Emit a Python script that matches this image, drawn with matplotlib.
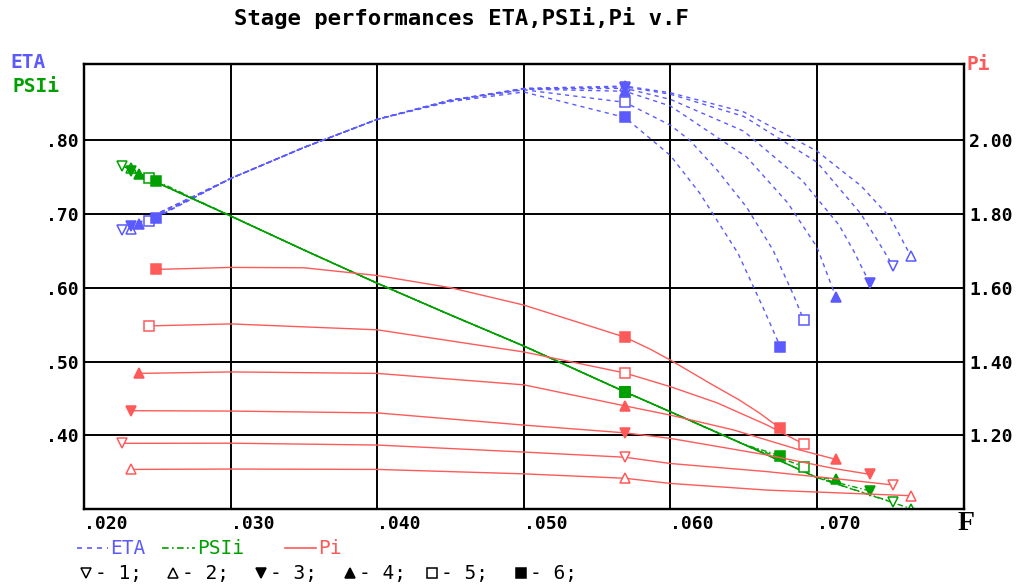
import matplotlib
matplotlib.use('Agg')
import matplotlib.pyplot as plt
from matplotlib.lines import Line2D

# cases 1..6 : markers and fills
case_names = ['1', '2', '3', '4', '5', '6']
case_markers = ['v', '^', 'v', '^', 's', 's']
case_filled = [False, False, True, True, False, True]

# ETA v F (left axis)
eta_F = [
    [0.0226, 0.030, 0.035, 0.040, 0.045, 0.050, 0.0569, 0.060, 0.065, 0.070, 0.0730, 0.0745, 0.0752],
    [0.0232, 0.030, 0.035, 0.040, 0.045, 0.050, 0.0569, 0.060, 0.065, 0.070, 0.0730, 0.0750, 0.0764],
    [0.0232, 0.030, 0.035, 0.040, 0.045, 0.050, 0.0569, 0.060, 0.065, 0.069, 0.0715, 0.0725, 0.0736],
    [0.0237, 0.030, 0.035, 0.040, 0.045, 0.050, 0.0569, 0.060, 0.0652, 0.0680, 0.070, 0.0713],
    [0.0244, 0.030, 0.035, 0.040, 0.045, 0.050, 0.0569, 0.060, 0.0613, 0.0632, 0.0652, 0.0670, 0.0684, 0.0691],
    [0.0249, 0.030, 0.035, 0.040, 0.045, 0.050, 0.0569, 0.060, 0.0620, 0.0646, 0.0663, 0.0675],
]
eta_val = [
    [0.678, 0.748, 0.790, 0.828, 0.854, 0.869, 0.872, 0.862, 0.832, 0.770, 0.700, 0.652, 0.629],
    [0.679, 0.748, 0.790, 0.828, 0.854, 0.870, 0.873, 0.864, 0.838, 0.785, 0.738, 0.695, 0.643],
    [0.683, 0.748, 0.790, 0.828, 0.854, 0.869, 0.870, 0.855, 0.812, 0.745, 0.685, 0.650, 0.606],
    [0.686, 0.748, 0.790, 0.828, 0.854, 0.869, 0.866, 0.846, 0.777, 0.715, 0.655, 0.587],
    [0.690, 0.748, 0.790, 0.828, 0.853, 0.868, 0.851, 0.820, 0.800, 0.759, 0.709, 0.651, 0.590, 0.556],
    [0.695, 0.748, 0.790, 0.828, 0.852, 0.865, 0.8305, 0.779, 0.728, 0.647, 0.574, 0.520],
]

# PSIi v F (left axis)
psi_F = [
    [0.0226, 0.025, 0.030, 0.035, 0.040, 0.045, 0.050, 0.0569, 0.060, 0.065, 0.070, 0.0752],
    [0.0232, 0.025, 0.030, 0.035, 0.040, 0.045, 0.050, 0.0569, 0.060, 0.065, 0.070, 0.0764],
    [0.0232, 0.025, 0.030, 0.035, 0.040, 0.045, 0.050, 0.0569, 0.060, 0.065, 0.070, 0.0736],
    [0.0237, 0.025, 0.030, 0.035, 0.040, 0.045, 0.050, 0.0569, 0.060, 0.065, 0.070, 0.0713],
    [0.0244, 0.025, 0.030, 0.035, 0.040, 0.045, 0.050, 0.0569, 0.060, 0.065, 0.0691],
    [0.0249, 0.030, 0.035, 0.040, 0.045, 0.050, 0.0569, 0.060, 0.065, 0.0675],
]
psi_val = [
    [0.765, 0.742, 0.697, 0.651, 0.606, 0.563, 0.521, 0.459, 0.432, 0.388, 0.343, 0.3095],
    [0.762, 0.742, 0.697, 0.651, 0.606, 0.563, 0.521, 0.459, 0.432, 0.388, 0.343, 0.301],
    [0.758, 0.742, 0.697, 0.651, 0.606, 0.563, 0.521, 0.459, 0.432, 0.388, 0.343, 0.325],
    [0.754, 0.742, 0.697, 0.651, 0.606, 0.563, 0.521, 0.459, 0.432, 0.388, 0.343, 0.3406],
    [0.749, 0.742, 0.697, 0.651, 0.606, 0.563, 0.521, 0.459, 0.432, 0.388, 0.3577],
    [0.745, 0.697, 0.651, 0.606, 0.563, 0.521, 0.459, 0.432, 0.388, 0.3725],
]

# Pi v F (right axis)
pi_F = [
    [0.0226, 0.030, 0.040, 0.050, 0.0569, 0.060, 0.0666, 0.0722, 0.0752],
    [0.0232, 0.030, 0.040, 0.050, 0.0569, 0.060, 0.0666, 0.0764],
    [0.0232, 0.030, 0.040, 0.050, 0.0569, 0.060, 0.0666, 0.0711, 0.0736],
    [0.0237, 0.030, 0.040, 0.050, 0.0569, 0.060, 0.0643, 0.0688, 0.0713],
    [0.0244, 0.030, 0.040, 0.050, 0.0569, 0.060, 0.0632, 0.0666, 0.0691],
    [0.0249, 0.030, 0.035, 0.040, 0.045, 0.050, 0.0569, 0.0586, 0.060, 0.0627, 0.0647, 0.0661, 0.0675],
]
pi_val = [
    [1.1786, 1.179, 1.174, 1.155, 1.141, 1.124, 1.102, 1.079, 1.0658],
    [1.108, 1.109, 1.108, 1.096, 1.084, 1.070, 1.052, 1.0368],
    [1.267, 1.266, 1.261, 1.228, 1.207, 1.192, 1.147, 1.111, 1.0947],
    [1.368, 1.372, 1.368, 1.337, 1.280, 1.255, 1.215, 1.161, 1.135],
    [1.4966, 1.502, 1.486, 1.426, 1.369, 1.332, 1.288, 1.228, 1.1767],
    [1.6495, 1.655, 1.654, 1.633, 1.600, 1.553, 1.466, 1.434, 1.404, 1.341, 1.296, 1.260, 1.219],
]
F_mid = 0.0569

x_ticks = [0.020, 0.030, 0.040, 0.050, 0.060, 0.070]
x_labels = ['.020', '.030', '.040', '.050', '.060', '.070']
left_ticks = [0.40, 0.50, 0.60, 0.70, 0.80]
left_labels = ['.40', '.50', '.60', '.70', '.80']
right_ticks = [1.20, 1.40, 1.60, 1.80, 2.00]
right_labels = ['1.20', '1.40', '1.60', '1.80', '2.00']

BLUE = '#5a5aff'
GREEN = '#00a000'
RED = '#ff5a5a'
MONO = 'DejaVu Sans Mono'

fig = plt.figure(figsize=(10.23, 5.85), dpi=100)
ax = fig.add_axes([84.3 / 1023, 1 - 509.3 / 585, (963.5 - 84.3) / 1023, (509.3 - 64.3) / 585])
ax2 = ax.twinx()


def draw(a, Fs, vs, color, ls):
    for i in range(6):
        a.plot(Fs[i], vs[i], color=color, ls=ls, lw=1.0, zorder=3)
        k = Fs[i].index(F_mid) if F_mid in Fs[i] else None
        idx = [0, len(Fs[i]) - 1] if k is None else [0, k, len(Fs[i]) - 1]
        a.plot([Fs[i][j] for j in idx], [vs[i][j] for j in idx], ls='none',
               marker=case_markers[i], ms=7, mew=1.1, mec=color,
               mfc=color if case_filled[i] else 'white', zorder=4)


draw(ax, eta_F, eta_val, BLUE, (0, (3, 3)))
draw(ax, psi_F, psi_val, GREEN, (0, (4, 2, 1, 2)))
draw(ax2, pi_F, pi_val, RED, '-')

ax.set_xlim(0.020, 0.080)
ax.set_ylim(0.30, 0.9025)
ax2.set_ylim(1.00, 2.205)

ax.set_xticks(x_ticks)
ax.set_xticklabels(x_labels, family=MONO, weight='bold', fontsize=13, ha='left')
ax.set_yticks(left_ticks)
ax.set_yticklabels(left_labels, family=MONO, weight='bold', fontsize=13)
ax2.set_yticks(right_ticks)
ax2.set_yticklabels(right_labels, family=MONO, weight='bold', fontsize=13)
ax.tick_params(length=0, pad=4)
ax2.tick_params(length=0, pad=4)
ax.grid(True, color='black', lw=1.4)
ax.set_axisbelow(True)
for a in (ax, ax2):
    for s in a.spines.values():
        s.set_linewidth(1.6)

fig.text(461 / 1023, 1 - 18 / 585, 'Stage performances ETA,PSIi,Pi v.F',
         family=MONO, weight='bold', fontsize=16, ha='center', va='center')
fig.text(10 / 1023, 1 - 63 / 585, 'ETA', color=BLUE, family=MONO, weight='bold',
         fontsize=14, va='center')
fig.text(12 / 1023, 1 - 87 / 585, 'PSIi', color=GREEN, family=MONO, weight='bold',
         fontsize=14, va='center')
fig.text(966 / 1023, 1 - 64 / 585, 'Pi', color=RED, family=MONO, weight='bold',
         fontsize=14, va='center')
fig.text(958 / 1023, 1 - 523 / 585, 'F', family='Liberation Serif', weight='bold',
         fontsize=20, va='center')


def P(x, y):
    return x / 1023, 1 - y / 585


# legend row 1
for x0, x1, col, ls, lab in [(77, 108, BLUE, (0, (3, 3)), 'ETA'),
                             (162, 195, GREEN, (0, (4, 2, 1, 2)), 'PSIi'),
                             (285, 316, RED, '-', 'Pi')]:
    (a0, b0), (a1, b1) = P(x0, 548), P(x1, 548)
    fig.add_artist(Line2D([a0, a1], [b0, b1], transform=fig.transFigure, color=col,
                          ls=ls, lw=1.2))
    fig.text(*P(x1 + 2, 548), lab, color=col, family=MONO, fontsize=14, va='center')

# legend row 2
leg_x = [86, 173, 261, 350, 432, 521]
for i in range(6):
    mx, my = P(leg_x[i], 573)
    fig.add_artist(Line2D([mx], [my], transform=fig.transFigure, ls='none',
                          marker=case_markers[i], ms=7, mew=1.1, mec='black',
                          mfc='black' if case_filled[i] else 'white'))
    fig.text(*P(leg_x[i] + 9, 573), '- ' + case_names[i] + ';', family=MONO,
             fontsize=14, va='center')

fig.savefig('out.png', dpi=100)
